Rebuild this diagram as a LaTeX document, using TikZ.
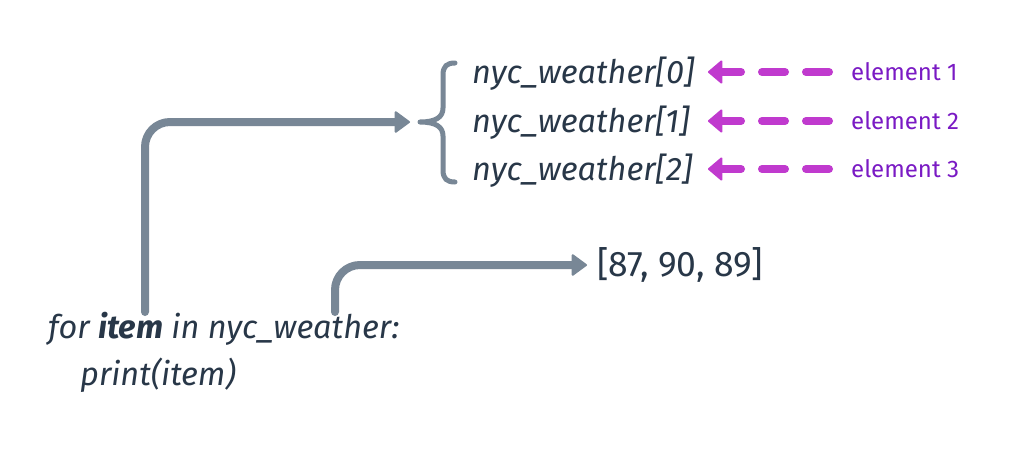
\documentclass[tikz,border=0pt]{standalone}
\usepackage{fontspec}
\setmainfont{Fira Sans}
\usetikzlibrary{arrows.meta}
\definecolor{linegray}{RGB}{120,135,150}
\definecolor{textdark}{RGB}{40,55,72}
\definecolor{magline}{RGB}{192,58,206}
\definecolor{labpurple}{RGB}{122,26,196}
\tikzset{
  codetext/.style={inner sep=0pt, text=textdark, font=\fontsize{32.5}{38}\selectfont\itshape},
  listtext/.style={inner sep=0pt, text=textdark, font=\fontsize{35.5}{40}\selectfont},
  eltext/.style={inner sep=0pt, text=labpurple, font=\fontsize{24}{28}\selectfont},
  grayarrow/.style={draw=linegray, line width=8pt, line cap=round, rounded corners=25pt,
    -{Triangle[length=16pt,width=23pt,round,line width=2pt]}},
  magarrow/.style={draw=magline, line width=8pt, line cap=round, dash pattern=on 23pt off 21pt,
    -{Triangle[length=15pt,width=25pt,round,line width=2pt]}},
  bracestyle/.style={draw=linegray, line width=5pt, line cap=round, line join=round},
}
\begin{document}
\begin{tikzpicture}[x=1pt,y=-1pt]
\useasboundingbox[fill=white] (0,0) rectangle (1010,448);
% code lines
\node[codetext, anchor=base west] (forline) at (48,338) {for \textbf{item} in nyc\_weather:};
\node[codetext, anchor=base west] (printline) at (80,385) {print(item)};
% list output
\node[listtext, anchor=west] (lst) at (597,265) {[87, 90, 89]};
% elements
\node[codetext, anchor=base west] (nw0) at (472,83) {nyc\_weather[0]};
\node[codetext, anchor=base west] (nw1) at (472,132) {nyc\_weather[1]};
\node[codetext, anchor=base west] (nw2) at (472,180) {nyc\_weather[2]};
\node[eltext, anchor=west] (el0) at (851,72) {element 1};
\node[eltext, anchor=west] (el1) at (851,121) {element 2};
\node[eltext, anchor=west] (el2) at (851,169) {element 3};
% brace
\coordinate (bt) at (420,122);
\draw[bracestyle] (455,63) .. controls (447,63) and (443,66) .. (443,75) -- (443,108)
  .. controls (443,117) and (436,122) .. (bt)
  .. controls (436,122) and (443,127) .. (443,136) -- (443,170)
  .. controls (443,179) and (447,182) .. (455,182);
% gray connectors
\coordinate (s1) at (145,312);
\coordinate (s2) at (335,312);
\draw[grayarrow, shorten >=10pt] (s1) |- (bt);
\draw[grayarrow, shorten >=10pt] (s2) |- (lst.west);
% magenta connectors (tips aligned in one column)
\coordinate (tipcol) at (708,0);
\draw[magarrow, shorten <=22pt] (el0.west) -- (el0.west -| tipcol);
\draw[magarrow, shorten <=22pt] (el1.west) -- (el1.west -| tipcol);
\draw[magarrow, shorten <=22pt] (el2.west) -- (el2.west -| tipcol);
\end{tikzpicture}
\end{document}
